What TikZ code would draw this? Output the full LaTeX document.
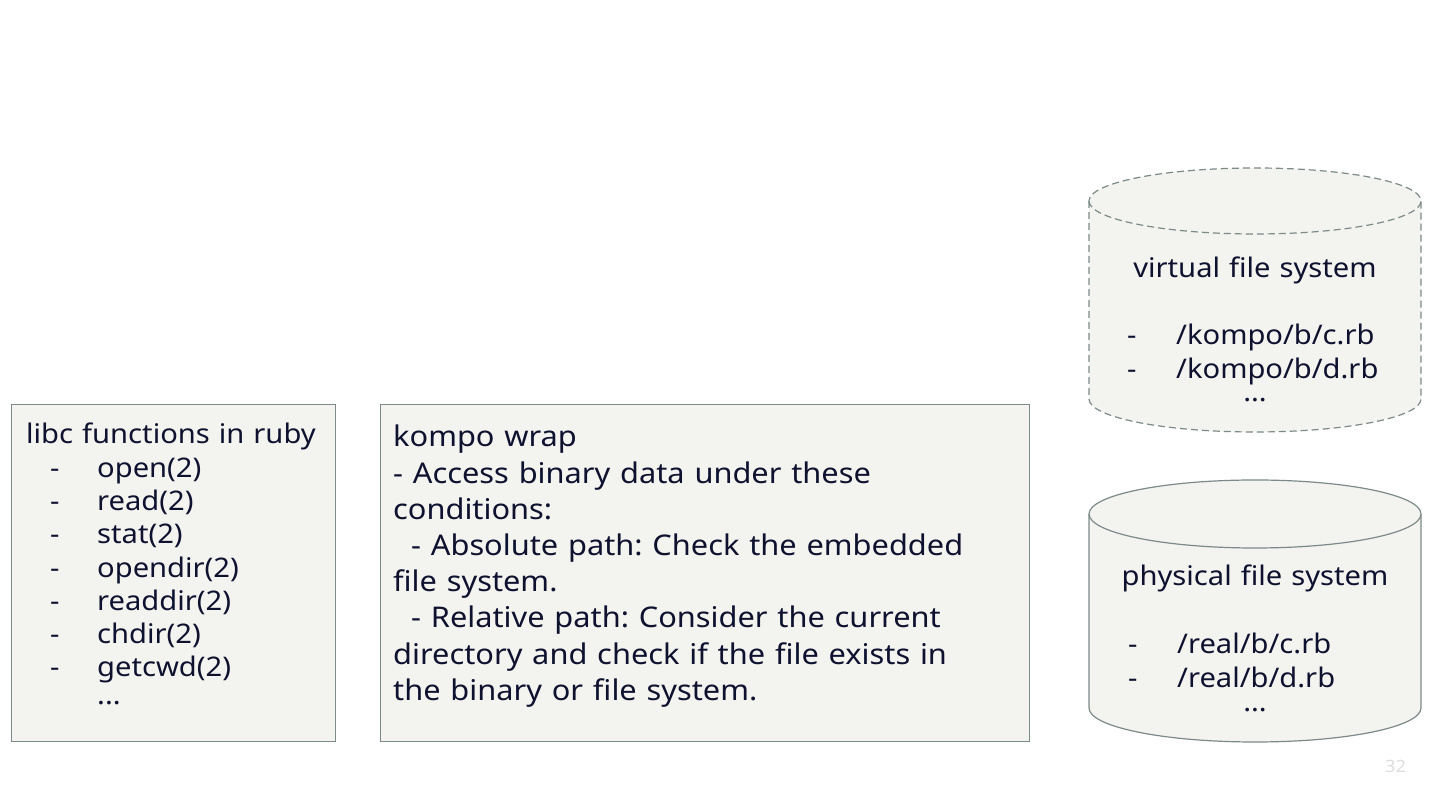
\documentclass[tikz,border=0pt]{standalone}
\usepackage{fontspec}
\setmainfont{Noto Sans}[FakeStretch=1.08]
\usetikzlibrary{positioning}
\definecolor{edgegray}{RGB}{125,138,138}
\definecolor{paperfill}{RGB}{243,243,239}
\definecolor{inkblue}{RGB}{14,18,46}
\definecolor{pagegray}{RGB}{222,222,222}
\newcommand{\fnitem}[1]{\hspace*{24pt}\makebox[47pt][l]{-}#1}
\newcommand{\fsitem}[1]{\makebox[49pt][l]{-}#1}
\newcommand{\wordgap}[1]{\frenchspacing\spaceskip=#1 plus 2pt\relax}
\tikzset{
  panel/.style={rectangle, draw=edgegray, fill=paperfill, line width=1.2pt, inner sep=0pt},
  drum/.style={draw=edgegray, fill=paperfill, line width=1.2pt},
  vdrum/.style={drum, dash pattern=on 7pt off 4pt},
  txt/.style={font=\fontsize{27}{33.3}\selectfont\wordgap{9pt}, text=inkblue, align=left, inner sep=0pt},
  wtxt/.style={font=\fontsize{28.5}{36.2}\selectfont\wordgap{9.8pt}, text=inkblue, align=left, inner sep=0pt},
  dots/.style={text=inkblue, inner sep=0pt, font=\fontsize{27}{33}\selectfont\bfseries},
  pnum/.style={font=\fontsize{17}{20}\selectfont, text=pagegray, inner sep=0pt}
}
\begin{document}
\begin{tikzpicture}[x=1pt, y=1pt]
  \useasboundingbox (0,0) rectangle (1440,810);
  \fill[white] (0,0) rectangle (1440,810);
  % left boxes
  \node[panel, minimum width=324pt, minimum height=337pt, anchor=south west] (libc) at (11,68) {};
  \node[panel, minimum width=649pt, minimum height=337pt, right=44pt of libc] (wrap) {};
  \node[txt, anchor=north west] (libctxt) at (26,387) {libc functions in ruby\\
    \fnitem{open(2)}\\ \fnitem{read(2)}\\ \fnitem{stat(2)}\\ \fnitem{opendir(2)}\\
    \fnitem{readdir(2)}\\ \fnitem{chdir(2)}\\ \fnitem{getcwd(2)}};
  \node[dots, anchor=base west] (libcdots) at (97,105) {...};
  \node[wtxt, anchor=north west] (wraptxt) at (393,385) {kompo wrap\\
    - Access binary data under these\\
    conditions:\\
    \hspace*{18pt}- Absolute path: Check the embedded\\
    file system.\\
    \hspace*{18pt}- Relative path: Consider the current\\
    directory and check if the file exists in\\
    the binary or file system.};
  % virtual file system
  \draw[vdrum] (1089,609) -- (1089,411) arc[start angle=180, end angle=360, x radius=166, y radius=33]
    -- (1421,609) arc[start angle=0, end angle=180, x radius=166, y radius=33] -- cycle;
  \draw[vdrum] (1089,609) arc[start angle=180, end angle=360, x radius=166, y radius=33];
  \node[txt, anchor=base] (vfs) at (1255,532) {virtual file system};
  \node[txt, anchor=north west] (vfslist) at (1127,486) {\fsitem{/kompo/b/c.rb}\\ \fsitem{/kompo/b/d.rb}};
  \node[dots, anchor=base] (vfsdots) at (1255,408) {...};
  % physical file system
  \draw[drum] (1089,296) -- (1089,102) arc[start angle=180, end angle=360, x radius=166, y radius=34]
    -- (1421,296) arc[start angle=0, end angle=180, x radius=166, y radius=34] -- cycle;
  \draw[drum] (1089,296) arc[start angle=180, end angle=360, x radius=166, y radius=34];
  \node[txt, anchor=base] (pfs) at (1255,224) {physical file system};
  \node[txt, anchor=north west] (pfslist) at (1128,177) {\fsitem{/real/b/c.rb}\\ \fsitem{/real/b/d.rb}};
  \node[dots, anchor=base] (pfsdots) at (1255,98) {...};
  \node[pnum, anchor=base west] (page) at (1385,37) {32};
\end{tikzpicture}
\end{document}
